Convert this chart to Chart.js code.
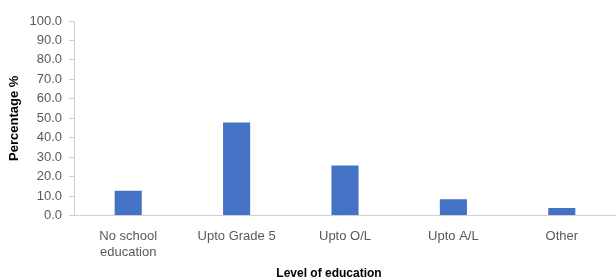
<!DOCTYPE html>
<html>
<head>
<meta charset="utf-8">
<script src="https://cdn.jsdelivr.net/npm/chart.js@4/dist/chart.umd.min.js"></script>
<style>
  html, body { margin: 0; padding: 0; background: #ffffff; }
  #wrap { width: 616px; height: 280px; position: relative; }
</style>
</head>
<body>
<div id="wrap"><canvas id="c"></canvas></div>
<script>
const categories = [["No school", "education"], "Upto Grade 5", "Upto O/L", "Upto A/L", "Other"];
const percentages = [12.7, 47.8, 25.7, 8.4, 3.9];
const yTitle = "Percentage %";
const xTitle = "Level of education";

const FONT = "'Liberation Sans', Arial, sans-serif";
const TEXT = "#595959";
const AXIS = "#d0d0d0";

const xTitlePlugin = {
  id: 'xTitlePlugin',
  afterDraw(chart) {
    const ctx = chart.ctx;
    ctx.save();
    ctx.font = "bold 12px " + FONT;
    ctx.fillStyle = "#000000";
    ctx.textAlign = "center";
    ctx.textBaseline = "middle";
    ctx.fillText(xTitle, 329, 274);
    ctx.restore();
  }
};

new Chart(document.getElementById('c'), {
  type: 'bar',
  data: {
    labels: categories,
    datasets: [{
      data: percentages,
      backgroundColor: '#4472c4',
      borderWidth: 0,
      categoryPercentage: 1.0,
      barPercentage: 0.25
    }]
  },
  options: {
    responsive: true,
    maintainAspectRatio: false,
    animation: false,
    devicePixelRatio: 1,
    layout: { padding: { top: 21, right: 0, bottom: 0, left: 0 } },
    plugins: { legend: { display: false }, tooltip: { enabled: false } },
    scales: {
      x: {
        grid: { display: false, drawTicks: false },
        border: { display: true, color: AXIS, width: 1 },
        ticks: {
          color: TEXT,
          font: { family: FONT, size: 13, lineHeight: 1.3 },
          padding: 12,
          maxRotation: 0,
          autoSkip: false
        },
        afterFit(scale) { scale.height = 64.5; }
      },
      y: {
        min: 0,
        max: 100,
        grid: { display: true, drawOnChartArea: false, drawTicks: true, tickLength: 5, color: AXIS },
        border: { display: true, color: AXIS, width: 1 },
        ticks: {
          stepSize: 10,
          color: TEXT,
          font: { family: FONT, size: 13 },
          padding: 7,
          callback: (v) => Number(v).toFixed(1)
        },
        title: {
          display: true,
          text: yTitle,
          color: "#000000",
          font: { family: FONT, size: 13, weight: 'bold' },
          padding: { top: 7, bottom: 0 }
        },
        afterFit(scale) { scale.width = 74; }
      }
    }
  },
  plugins: [xTitlePlugin]
});
</script>
</body>
</html>
